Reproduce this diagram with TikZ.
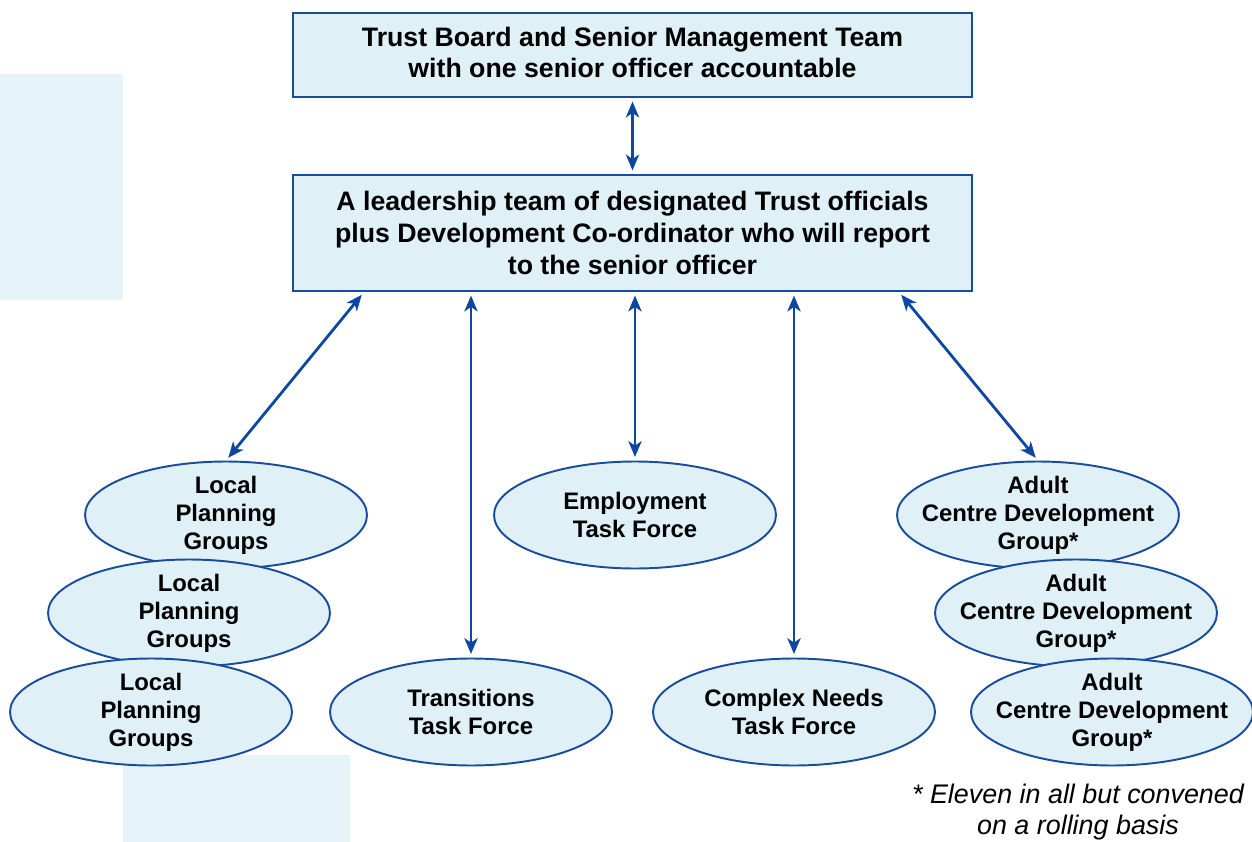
\documentclass[tikz,border=0pt]{standalone}
\usepackage{fontspec}
\setmainfont{Liberation Sans}
\usetikzlibrary{arrows.meta,shapes.geometric,calc}
\definecolor{linkblue}{HTML}{0D47A1}
\definecolor{edgeblue}{HTML}{1A4C9C}
\definecolor{cellfill}{HTML}{DFF0F7}
\definecolor{panelfill}{HTML}{E6F4FA}
\begin{document}
\begin{tikzpicture}[x=0.02cm,y=-0.02cm,
  headbox/.style={draw=edgeblue,line width=1.2pt,fill=cellfill,rectangle,
    minimum width=13.58cm,align=center,inner sep=0pt,
    font=\fontsize{15.2}{18.1}\selectfont\bfseries},
  group/.style={draw=edgeblue,line width=1.1pt,fill=cellfill,ellipse,
    minimum width=5.64cm,minimum height=2.14cm,inner xsep=-12pt,inner ysep=-6pt,
    align=center,font=\fontsize{13.6}{15.9}\selectfont\bfseries},
  link/.style={draw=linkblue,line width=1.6pt,
    {Stealth[length=9pt,width=7.5pt,inset=2.5pt]}-{Stealth[length=9pt,width=7.5pt,inset=2.5pt]},
    shorten <=2pt,shorten >=2pt},
  note/.style={align=center,font=\fontsize{15.3}{17.6}\selectfont\itshape}]
\useasboundingbox (0,0) rectangle (1252,842);

% pale backdrop panels
\fill[panelfill] (0,74) rectangle (123,300);
\fill[panelfill] (123,755) rectangle (350,842);

% management tiers
\node[headbox,minimum height=1.68cm] (board) at (632.5,55)
  {Trust Board and Senior Management Team\\with one senior officer accountable\vphantom{p}};
\node[headbox,minimum height=2.32cm] (lead) at (632.5,233)
  {A leadership team of designated Trust officials\\plus Development Co-ordinator who will report\\to the senior officer};

% local planning groups (stacked)
\node[group] (lpgA) at (226,515) {Local\\Planning\\Groups};
\node[group] (lpgB) at (189,613) {Local\\Planning\\Groups};
\node[group] (lpgC) at (151,712) {Local\\Planning\\Groups};

% task forces
\node[group] (employ) at (635,515) {Employment\\Task Force};
\node[group] (trans) at (471,712) {Transitions\\Task Force};
\node[group] (complex) at (794,712) {Complex Needs\\Task Force};

% adult centre development groups (stacked)
\node[group] (acdA) at (1038,515) {Adult\\Centre Development\\Group*};
\node[group] (acdB) at (1076,613) {Adult\\Centre Development\\Group*};
\node[group] (acdC) at (1112,712) {Adult\\Centre Development\\Group*};

% footnote
\node[note] (foot) at (1078,812) {* Eleven in all but convened\\on a rolling basis};

% two-way links
\draw[link] (board.south) -- (lead.north);
\draw[link] ($(lead.south west)+(72,0)$) -- (lpgA.north);
\draw[link] (lead.south -| trans.north) -- (trans.north);
\draw[link] (lead.south -| employ.north) -- (employ.north);
\draw[link] (lead.south -| complex.north) -- (complex.north);
\draw[link] ($(lead.south west)+(607,0)$) -- (acdA.north);
\end{tikzpicture}
\end{document}
